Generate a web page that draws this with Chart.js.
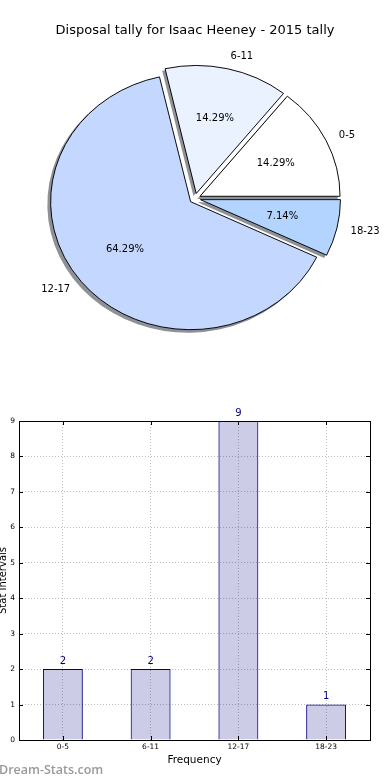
<!DOCTYPE html>
<html>
<head>
<meta charset="utf-8">
<script src="https://cdn.jsdelivr.net/npm/chart.js@4.4.1/dist/chart.umd.min.js"></script>
<style>
  html, body { margin: 0; padding: 0; background: #ffffff; }
  body { width: 390px; height: 780px; position: relative; overflow: hidden; }
  canvas { position: absolute; left: 0; }
  #pie { top: 0; }
  #bar { top: 380px; }
</style>
</head>
<body>
<canvas id="pie" width="390" height="397"></canvas>
<canvas id="bar" width="390" height="400"></canvas>
<script>
// ---- data ----
const chartTitle = 'Disposal tally for Isaac Heeney - 2015 tally';
const categories = ['0-5', '6-11', '12-17', '18-23'];
const tally = [2, 2, 9, 1];
const sliceColors = ['#ffffff', '#eaf2ff', '#c4d8ff', '#b3d4ff'];
const xAxisTitle = 'Frequency';
const yAxisTitle = 'Stat Intervals';
const watermark = 'Dream-Stats.com';

const FONT = '"DejaVu Sans", sans-serif';
const RADIUS = 140;          // horizontal radius
const YSCALE = 128 / 140;    // pie is an ellipse (unequal axes)
const EXPLODE = 5.6;

const total = tally.reduce((a, b) => a + b, 0);

const piePlugin = {
  id: 'pieDraw',
  beforeDatasetDraw(chart, args) {
    const ctx = chart.ctx;
    const meta = args.meta;
    const a = chart.chartArea;
    const cx = (a.left + a.right) / 2, cy = (a.top + a.bottom) / 2;
    const xf = () => { ctx.translate(cx, cy); ctx.scale(1, -YSCALE); ctx.translate(-cx, -cy); };
    // shadows beneath all wedges
    ctx.save();
    ctx.translate(-2.8, 2.6);
    xf();
    ctx.fillStyle = 'rgba(50,55,68,0.55)';
    meta.data.forEach(el => {
      const mid = (el.startAngle + el.endAngle) / 2;
      const ox = el.x + Math.cos(mid) * EXPLODE, oy = el.y + Math.sin(mid) * EXPLODE;
      ctx.beginPath();
      ctx.moveTo(ox, oy);
      ctx.arc(ox, oy, el.outerRadius + 0.5, el.startAngle, el.endAngle);
      ctx.closePath();
      ctx.fill();
    });
    ctx.restore();
    // wedges
    ctx.save();
    xf();
    meta.data.forEach(el => {
      const mid = (el.startAngle + el.endAngle) / 2;
      ctx.save();
      ctx.translate(Math.cos(mid) * EXPLODE, Math.sin(mid) * EXPLODE);
      el.draw(ctx);
      ctx.restore();
    });
    ctx.restore();
    return false;
  },
  afterDraw(chart) {
    const ctx = chart.ctx;
    const a = chart.chartArea;
    const cx = (a.left + a.right) / 2, cy = (a.top + a.bottom) / 2;
    const meta = chart.getDatasetMeta(0);
    ctx.save();
    ctx.fillStyle = '#000';
    // title
    ctx.font = '13px ' + FONT;
    ctx.textAlign = 'center';
    ctx.textBaseline = 'alphabetic';
    ctx.fillText(chartTitle, cx, 34);
    ctx.font = '10px ' + FONT;
    ctx.textBaseline = 'middle';
    meta.data.forEach((el, i) => {
      const mid = (el.startAngle + el.endAngle) / 2;
      const c = Math.cos(mid), s = Math.sin(mid);
      const R = el.outerRadius;
      // category label at 1.1 r
      let d = EXPLODE + 1.1 * R;
      ctx.textAlign = c >= 0 ? 'left' : 'right';
      ctx.fillText(categories[i], cx + c * d, cy - YSCALE * s * d);
      // percentage at 0.6 r
      d = EXPLODE + 0.6 * R;
      ctx.textAlign = 'center';
      const pct = (tally[i] / total * 100).toFixed(2) + '%';
      ctx.fillText(pct, cx + c * d, cy - YSCALE * s * d);
    });
    ctx.restore();
  }
};

new Chart(document.getElementById('pie'), {
  type: 'pie',
  data: {
    labels: categories,
    datasets: [{
      data: tally,
      backgroundColor: sliceColors,
      borderColor: '#000000',
      borderWidth: 1,
      borderJoinStyle: 'miter',
      borderAlign: 'center'
    }]
  },
  options: {
    responsive: false,
    animation: false,
    rotation: 90,
    radius: RADIUS,
    layout: { padding: 0 },
    events: [],
    plugins: { legend: { display: false }, tooltip: { enabled: false }, title: { display: false } }
  },
  plugins: [piePlugin]
});

const barPlugin = {
  id: 'barDecor',
  afterDraw(chart) {
    const ctx = chart.ctx;
    const a = chart.chartArea;
    const xs = chart.scales.x, ys = chart.scales.y;
    ctx.save();
    // inward tick marks
    ctx.strokeStyle = '#000';
    ctx.lineWidth = 1;
    ctx.beginPath();
    ys.ticks.forEach((t, i) => {
      const py = Math.round(ys.getPixelForTick(i)) + 0.5;
      ctx.moveTo(a.left, py); ctx.lineTo(a.left + 4, py);
      ctx.moveTo(a.right - 4, py); ctx.lineTo(a.right, py);
    });
    xs.ticks.forEach((t, i) => {
      const px = Math.round(xs.getPixelForTick(i)) + 0.5;
      ctx.moveTo(px, a.bottom); ctx.lineTo(px, a.bottom - 4);
      ctx.moveTo(px, a.top); ctx.lineTo(px, a.top + 4);
    });
    ctx.stroke();
    // frame
    ctx.strokeRect(Math.round(a.left) + 0.5, Math.round(a.top) + 0.5,
                   Math.round(a.right) - Math.round(a.left), Math.round(a.bottom) - Math.round(a.top));
    // value labels
    const meta = chart.getDatasetMeta(0);
    ctx.fillStyle = '#000080';
    ctx.font = '10px ' + FONT;
    ctx.textAlign = 'center';
    ctx.textBaseline = 'alphabetic';
    meta.data.forEach((bar, i) => {
      ctx.fillText(String(tally[i]), bar.x, bar.y - 5.5);
    });
    // axis titles
    ctx.fillStyle = '#000';
    ctx.font = '10.5px ' + FONT;
    ctx.textBaseline = 'middle';
    ctx.fillText(xAxisTitle, (a.left + a.right) / 2, a.bottom + 20.7);
    ctx.save();
    ctx.translate(3, (a.top + a.bottom) / 2);
    ctx.rotate(-Math.PI / 2);
    ctx.font = '10px ' + FONT;
    ctx.fillText(yAxisTitle, 0, 0);
    ctx.restore();
    // watermark
    ctx.fillStyle = '#999999';
    ctx.font = '600 12.5px "Open Sans", sans-serif';
    ctx.textAlign = 'left';
    ctx.textBaseline = 'middle';
    ctx.fillText(watermark, -1, 390.5);
    ctx.restore();
  }
};

new Chart(document.getElementById('bar'), {
  type: 'bar',
  data: {
    labels: categories,
    datasets: [{
      data: tally,
      backgroundColor: 'rgba(0,0,128,0.2)',
      borderColor: '#000080',
      borderWidth: 1,
      barPercentage: 0.455,
      categoryPercentage: 1.0
    }]
  },
  options: {
    responsive: false,
    animation: false,
    events: [],
    layout: { padding: { top: 41, right: 20, left: 0, bottom: 0 } },
    plugins: { legend: { display: false }, tooltip: { enabled: false } },
    scales: {
      x: {
        z: 1,
        offset: true,
        grid: { offset: false, drawTicks: false, color: '#bdbdbd', lineWidth: 1 },
        border: { display: false, dash: [1, 2] },
        ticks: { color: '#000', font: { family: FONT, size: 7.5 }, padding: 3, maxRotation: 0 },
        afterFit(scale) { scale.height = 40; }
      },
      y: {
        z: 1,
        min: 0,
        max: 9,
        grid: { drawTicks: false, color: '#bdbdbd', lineWidth: 1 },
        border: { display: false, dash: [1, 2] },
        ticks: { stepSize: 1, color: '#000', font: { family: FONT, size: 7.5 }, padding: 4 },
        afterFit(scale) { scale.width = 19; }
      }
    }
  },
  plugins: [barPlugin]
});
</script>
</body>
</html>
